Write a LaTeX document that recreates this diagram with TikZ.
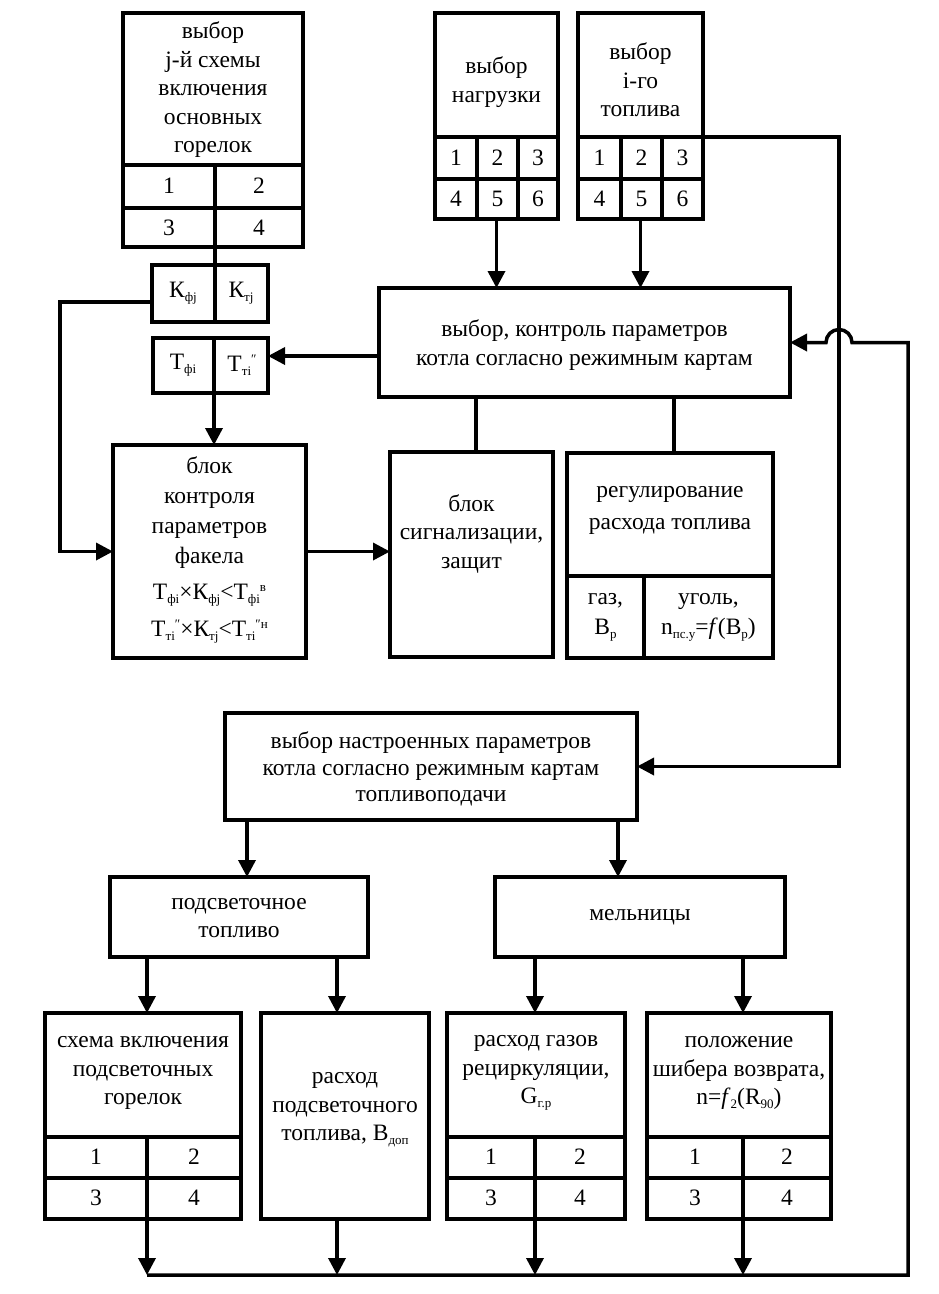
\documentclass[tikz,border=0pt]{standalone}
\usepackage{fontspec}
\setmainfont{Liberation Serif}
\usetikzlibrary{arrows.meta,calc}
\newcommand\subf{\fontsize{13}{13}\selectfont}
\newcommand\lo[1]{\raisebox{-4pt}{\subf #1}}
\newcommand\hi[1]{\raisebox{8pt}{\subf #1}}
\newcommand\mkbox[5]{%
  \pgfmathsetmacro\bxw{#4-#2}\pgfmathsetmacro\bxh{#5-#3}%
  \pgfmathsetmacro\bxx{(#2+#4)/2}\pgfmathsetmacro\bxy{(#3+#5)/2}%
  \node[box, minimum width=\bxw pt, minimum height=\bxh pt] (#1) at (\bxx,\bxy) {};}
\begin{document}
\begin{tikzpicture}[x=1pt,y=-1pt,
  ln/.style={line width=3.5pt},
  box/.style={draw, rectangle, line width=3.5pt, inner sep=0pt, outer sep=0pt},
  txt/.style={align=center, inner sep=0pt, font=\fontsize{23.5}{28.5}\selectfont},
  arr/.style={line width=3.5pt, -{Triangle[length=17pt,width=17pt]}},
]
\useasboundingbox (0,0) rectangle (938,1294);

% ---------- boxes ----------
\mkbox{A}{123}{13}{303}{247}
\mkbox{K}{152}{265}{268}{322}
\mkbox{T}{153}{338}{268}{393}
\mkbox{load}{435}{13}{558}{219}
\mkbox{fuel}{578}{13}{703}{219}
\mkbox{main}{379}{288}{790}{397}
\mkbox{flame}{113}{445}{306}{658}
\mkbox{signal}{390}{452}{553}{657}
\mkbox{reg}{567}{453}{773}{658}
\mkbox{nastr}{225}{713}{637}{820}
\mkbox{pods}{110}{877}{368}{957}
\mkbox{mel}{495}{877}{785}{957}
\mkbox{b1}{45}{1013}{241}{1219}
\mkbox{b2}{261}{1013}{429}{1219}
\mkbox{b3}{447}{1013}{625}{1219}
\mkbox{b4}{647}{1013}{831}{1219}

% ---------- internal dividers ----------
\draw[ln] (123,165) -- (303,165);
\draw[ln] (123,208) -- (303,208);
\draw[ln] (215,165) -- (215,247);
\draw[ln] (215,265) -- (215,322);
\draw[ln] (214,338) -- (214,393);
\draw[ln] (435,137) -- (558,137);
\draw[ln] (435,179) -- (558,179);
\draw[ln] (477,137) -- (477,219);
\draw[ln] (518,137) -- (518,219);
\draw[ln] (578,137) -- (703,137);
\draw[ln] (578,179) -- (703,179);
\draw[ln] (621,137) -- (621,219);
\draw[ln] (662,137) -- (662,219);
\draw[ln] (567,576) -- (773,576);
\draw[ln] (644,576) -- (644,658);
\foreach \l/\m/\r in {45/147/241, 447/535/625, 647/743/831}{
  \draw[ln] (\l,1137) -- (\r,1137);
  \draw[ln] (\l,1178) -- (\r,1178);
  \draw[ln] (\m,1137) -- (\m,1219);
}

% ---------- texts ----------
\node[txt] (tA) at (213,90) {выбор\\j-й схемы\\включения\\основных\\горелок};
\node[txt] (tA1) at (169,186) {1};
\node[txt] (tA2) at (259,186) {2};
\node[txt] (tA3) at (169,228) {3};
\node[txt] (tA4) at (259,228) {4};
\node[txt] (tK1) at (183,293) {К\lo{фj}};
\node[txt] (tK2) at (241,293) {К\lo{тj}};
\node[txt] (tT1) at (183,365) {Т\lo{фi}};
\node[txt] (tT2) at (242,365) {Т\lo{тi}\hi{″}};
\node[txt] (tload) at (496.5,82) {выбор\\нагрузки};
\node[txt] (tfuel) at (640.5,80) {выбор\\i-го\\топлива};
\foreach \x/\n in {456/1,497.5/2,538/3}{\node[txt] (tl\n) at (\x,158) {\n};}
\foreach \x/\n in {456/4,497.5/5,538/6}{\node[txt] (tl\n) at (\x,199) {\n};}
\foreach \x/\n in {599.5/1,641.5/2,682.5/3}{\node[txt] (tf\n) at (\x,158) {\n};}
\foreach \x/\n in {599.5/4,641.5/5,682.5/6}{\node[txt] (tf\n) at (\x,199) {\n};}
\node[txt] (tmain) at (584.5,345) {выбор, контроль параметров\\котла согласно режимным картам};
\node[txt, font=\fontsize{23.5}{30}\selectfont] (tflame) at (209.5,513) {блок\\контроля\\параметров\\факела};
\node[txt, font=\fontsize{23.5}{37}\selectfont] (tform) at (209.5,614)
  {Т\lo{фi}×К\lo{фj}<Т\lo{фi}\hi{в}\\Т\lo{тi}\hi{″}×К\lo{тj}<Т\lo{тi}\hi{″н}};
\node[txt] (tsig) at (471.5,534) {блок\\сигнализации,\\защит};
\node[txt, font=\fontsize{23.5}{32}\selectfont] (treg) at (670,510) {регулирование\\расхода топлива};
\node[txt, font=\fontsize{23.5}{30}\selectfont] (tgas) at (605.5,617) {газ,\\B\lo{р}};
\node[txt, font=\fontsize{23.5}{30}\selectfont] (tcoal) at (708.5,617) {уголь,\\n\lo{пс.у}=\textit{f}(B\lo{р})};
\node[txt, font=\fontsize{23.5}{26.5}\selectfont] (tnastr) at (431,769) {выбор настроенных параметров\\котла согласно режимным картам\\топливоподачи};
\node[txt] (tpods) at (239,918) {подсветочное\\топливо};
\node[txt] (tmel) at (640,917) {мельницы};
\node[txt] (tb1) at (143,1073) {схема включения\\подсветочных\\горелок};
\node[txt] (tb2) at (345,1110) {расход\\подсветочного\\топлива, B\lo{доп}};
\node[txt] (tb3) at (536,1073) {расход газов\\рециркуляции,\\G\lo{г.р}};
\node[txt] (tb4) at (739,1073) {положение\\шибера возврата,\\n=\textit{f}\lo{2}(R\lo{90})};
\foreach \x/\y/\n/\k in {96/1157/1/a,194/1157/2/b,96/1198/3/c,194/1198/4/d,
  491/1157/1/e,580/1157/2/f,491/1198/3/g,580/1198/4/h,
  695/1157/1/i,787/1157/2/j,695/1198/3/k,787/1198/4/l}{
  \node[txt] (tc\k) at (\x,\y) {\n};}

% ---------- connectors ----------
\draw[ln] ([xshift=2pt]A.south) -- ([xshift=2pt]A.south |- K.north);
\draw[arr] ([yshift=-8.5pt]K.west) -| ([xshift=-53pt]flame.west) -- (flame.west);
\draw[arr] ([yshift=-13.5pt]main.west) -- ([yshift=-13.5pt]main.west -| T.east);
\coordinate (ts) at ([xshift=3.5pt]T.south);
\draw[arr] (ts) -- (ts |- flame.north);
\draw[arr] (flame.east) -- (flame.east -| signal.west);
\draw[arr] (load.south) -- (load.south |- main.north);
\draw[arr] (fuel.south) -- (fuel.south |- main.north);
\coordinate (sn) at ([xshift=4.5pt]signal.north);
\draw[ln] (sn |- main.south) -- (sn);
\coordinate (rn) at ([xshift=4pt]reg.north);
\draw[ln] (rn |- main.south) -- (rn);
\coordinate (fe) at ([yshift=-21pt]fuel.east);
\draw[arr] (fe) -| ([xshift=202pt]nastr.east) -- (nastr.east);
\coordinate (p1) at ([xshift=8pt]pods.north);
\draw[arr] (p1 |- nastr.south) -- (p1);
\coordinate (p2) at ([xshift=-22pt]mel.north);
\draw[arr] (p2 |- nastr.south) -- (p2);
\coordinate (q1) at ([xshift=4pt]b1.north);
\draw[arr] (q1 |- pods.south) -- (q1);
\coordinate (q2) at ([xshift=-8pt]b2.north);
\draw[arr] (q2 |- pods.south) -- (q2);
\coordinate (q3) at ([xshift=-1pt]b3.north);
\draw[arr] (q3 |- mel.south) -- (q3);
\coordinate (q4) at ([xshift=4pt]b4.north);
\draw[arr] (q4 |- mel.south) -- (q4);
\draw[arr] ([xshift=4pt]b1.south) -- ++(0,56);
\draw[arr] ([xshift=-8pt]b2.south) -- ++(0,56);
\draw[arr] ([xshift=-1pt]b3.south) -- ++(0,56);
\draw[arr] ([xshift=4pt]b4.south) -- ++(0,56);
\coordinate (busL) at ([xshift=4pt,yshift=-56pt]b1.south);
\draw[arr] (busL) -- (908,1275) |- ([xshift=62pt]main.east)
  arc[start angle=0,end angle=180,radius=13pt] -- (main.east);
\end{tikzpicture}
\end{document}
